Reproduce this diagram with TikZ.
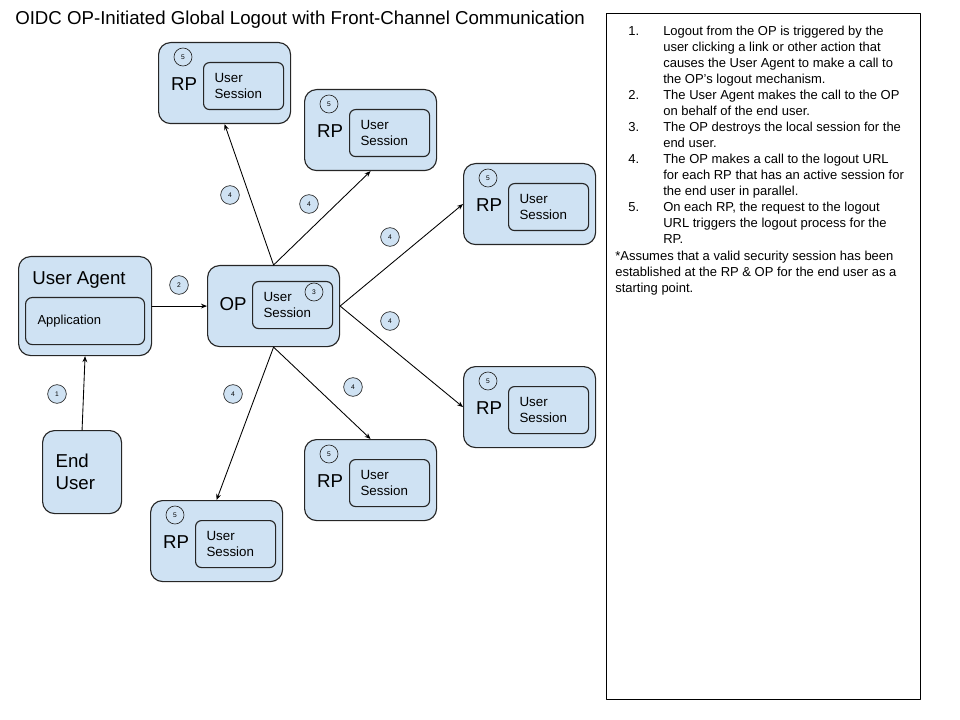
\documentclass[tikz,border=0pt]{standalone}
\usepackage{fontspec}
\setmainfont{Liberation Sans}
\usetikzlibrary{positioning,arrows.meta}
\definecolor{boxblue}{HTML}{CFE2F3}
\definecolor{edge}{HTML}{262626}

\begin{document}
\begin{tikzpicture}[x=0.75pt,y=-0.75pt,line join=round,line cap=round,>={Stealth[length=4.5pt,width=3.6pt]},
	box/.style={draw=edge,fill=boxblue,line width=0.85pt,rounded corners=9pt,anchor=north west,inner sep=0pt},
	rpbox/.style={box,minimum width=99pt,minimum height=60.75pt},
	sess/.style={box,rounded corners=4.5pt,minimum width=60pt,minimum height=35.25pt,text width=43.5pt,inner xsep=8pt,align=left,font=\fontsize{10}{12}\selectfont},
	big/.style={inner sep=0pt,font=\fontsize{14}{16.5}\selectfont},
	num/.style={circle,draw=edge,fill=boxblue,line width=0.5pt,minimum size=14pt,inner sep=0pt,font=\fontsize{5}{6}\selectfont},
	flow/.style={->,line width=0.65pt},
	notefont/.style={inner sep=0pt,anchor=north west,font=\fontsize{9.75}{12}\selectfont}]
	\useasboundingbox (0,0) rectangle (960,720);
	\node[anchor=west,inner sep=0pt,font=\fontsize{14}{16}\selectfont] (title) at (15,20)
		{OIDC OP-Initiated Global Logout with Front-Channel Communication};

	\node[box,minimum width=99.75pt,minimum height=74.25pt] (ua) at (18,256) {};
	\node[big] (uat) at (79,280) {User Agent};
	\node[box,rounded corners=5pt,minimum width=89.25pt,minimum height=35.25pt,text width=71.25pt,inner xsep=9pt,align=left,font=\fontsize{9.75}{12}\selectfont] (app) at (25,297) {Application};

	\node[box,minimum width=59.25pt,minimum height=62.25pt,text width=39.75pt,inner xsep=9.75pt,align=left,font=\fontsize{14}{16.5}\selectfont] (enduser) at (42,430) {End\\User};

	\node[rpbox] (op) at (207,265) {};
	\node[big] (opt) at (233,304) {OP};
	\node[sess] (ops) at (252,281) {User\\Session};
	\node[num,minimum size=13.5pt] (c3) at (314,292) {3};

	\foreach \n/\x/\y in {1/158/42,2/304/89,3/463/163,4/463/366,5/304/439,6/150/500}{
		\node[rpbox] (rp\n) at (\x,\y) {};
		\node[sess] (rp\n s) at ([shift={(45,20)}]rp\n.north west) {User\\Session};
		\node[big] (rp\n t) at ([shift={(26,42)}]rp\n.north west) {RP};
		\node[num,minimum size=13.5pt] (rp\n c) at ([shift={(25,15)}]rp\n.north west) {5};
	}

	\draw[flow] (enduser.north) -- (ua.south);
	\draw[flow] (ua.east) -- (op.west);
	\draw[flow] (op.north) -- (rp1.south);
	\draw[flow] (op.north) -- (rp2.south);
	\draw[flow] (op.east) -- (rp3.west);
	\draw[flow] (op.east) -- (rp4.west);
	\draw[flow] (op.south) -- (rp5.north);
	\draw[flow] (op.south) -- (rp6.north);

	\node[num] (c1) at (57,394) {1};
	\node[num] (c2) at (179,285) {2};
	\node[num] (c4a) at (230,195) {4};
	\node[num] (c4b) at (309,204) {4};
	\node[num] (c4c) at (390,237) {4};
	\node[num] (c4d) at (390,321) {4};
	\node[num] (c4e) at (353,387) {4};
	\node[num] (c4f) at (233,394) {4};

	\node[draw=black,line width=0.6pt,anchor=north west,minimum width=235.5pt,minimum height=514.5pt] (notes) at (606,13) {};
	\node[notefont] (list) at (628,24.3) {\begin{tabular}{@{}p{26.25pt}@{}l@{}}
		1. & Logout from the OP is triggered by the\\
		   & user clicking a link or other action that\\
		   & causes the User Agent to make a call to\\
		   & the OP’s logout mechanism.\\
		2. & The User Agent makes the call to the OP\\
		   & on behalf of the end user.\\
		3. & The OP destroys the local session for the\\
		   & end user.\\
		4. & The OP makes a call to the logout URL\\
		   & for each RP that has an active session for\\
		   & the end user in parallel.\\
		5. & On each RP, the request to the logout\\
		   & URL triggers the logout process for the\\
		   & RP.
	\end{tabular}};
	\node[notefont,xshift=-9.75pt] (foot) at (list.south west) {\begin{tabular}{@{}l@{}}
		*Assumes that a valid security session has been\\
		established at the RP \& OP for the end user as a\\
		starting point.
	\end{tabular}};
\end{tikzpicture}
\end{document}
